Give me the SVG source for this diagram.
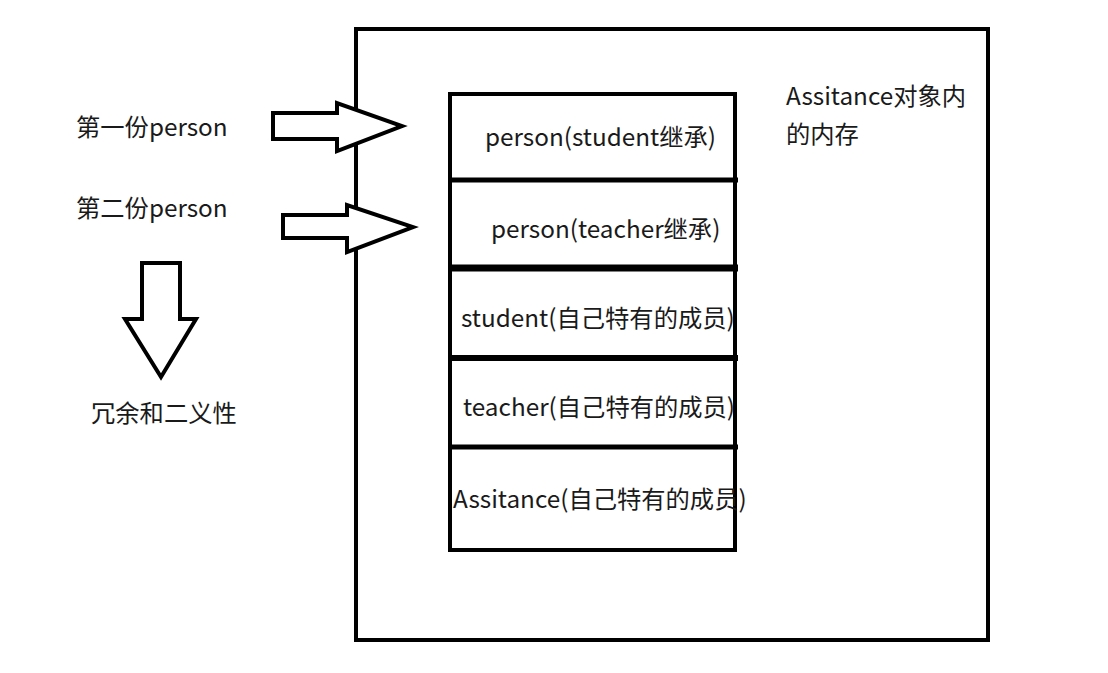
<svg xmlns="http://www.w3.org/2000/svg" width="1108" height="673" viewBox="0 0 1108 673">
<style>
.t{font-family:"Noto Sans CJK SC","Noto Sans",sans-serif;font-size:24.3px;fill:#1a1a1a}
.b{fill:none;stroke:#000;stroke-width:4}
.a{fill:#fff;stroke:#000;stroke-width:4;stroke-linejoin:miter}
</style>
<rect width="1108" height="673" fill="#fff"/>
<g id="outer">
<rect class="b" x="356" y="29" width="632" height="611"/>
<text class="t" x="786" y="105">Assitance对象内</text>
<text class="t" x="786" y="143">的内存</text>
</g>
<g id="stack">
<rect class="b" x="450" y="94" width="285" height="456" stroke-width="5"/>
<line x1="450" y1="180" x2="738" y2="180" stroke="#000" stroke-width="5"/>
<line x1="450" y1="268" x2="738" y2="268" stroke="#000" stroke-width="7"/>
<line x1="450" y1="358" x2="738" y2="358" stroke="#000" stroke-width="6"/>
<line x1="450" y1="447" x2="738" y2="447" stroke="#000" stroke-width="5"/>
</g>
<g id="n1"><text class="t" x="485" y="146">person(student继承)</text></g>
<g id="n2"><text class="t" x="491" y="238">person(teacher继承)</text></g>
<g id="n3"><text class="t" x="461" y="327">student(自己特有的成员)</text></g>
<g id="n4"><text class="t" x="463" y="416">teacher(自己特有的成员)</text></g>
<g id="n5"><text class="t" x="453" y="508">Assitance(自己特有的成员)</text></g>
<g id="labels">
<text class="t" x="76" y="136">第一份person</text>
<text class="t" x="76" y="217">第二份person</text>
<text class="t" x="91" y="422">冗余和二义性</text>
</g>
<g id="connectors">
<polygon class="a" points="273,113 337,113 337,103 402,126 337,151 337,139 273,139"/>
<polygon class="a" points="283,215 347,215 347,205 413,227 347,252 347,238 283,238"/>
<polygon class="a" points="142,263 180,263 180,319 196,319 161,377 125,319 142,319"/>
</g>
</svg>
